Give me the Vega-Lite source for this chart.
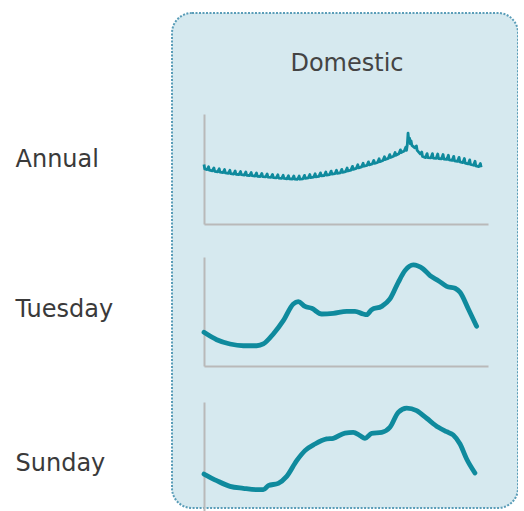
{
  "$schema": "https://vega.github.io/schema/vega-lite/v6.json",
  "width": 346,
  "height": 495,
  "padding": {"left": 15, "top": 13, "right": 0, "bottom": 0},
  "background": "white",
  "title": {"text": "Domestic", "font": "DejaVu Sans", "fontSize": 24, "fontWeight": "normal", "color": "#444444", "offset": -63, "anchor": "middle", "dx": 2},
  "config": {
    "view": {"fill": "#d6e9ef", "stroke": "#5a9db8", "strokeWidth": 2, "strokeDash": [2, 1.5], "cornerRadius": 20},
    "axis": {"domainColor": "#b9b9b9", "domainWidth": 2, "ticks": false, "labels": false, "grid": false},
    "line": {"color": "#0f8a9d"}
  },
  "datasets": {
    "annual": [
      {"d":0,"v":54},{"d":1,"v":50},{"d":4,"v":49.4},{"d":6,"v":52.0},
      {"d":7,"v":49.0},{"d":11,"v":48.4},{"d":13,"v":51.0},
      {"d":14,"v":47.9},{"d":18,"v":47.5},{"d":20,"v":50.2},
      {"d":21,"v":47.2},{"d":25,"v":46.8},{"d":27,"v":49.5},
      {"d":28,"v":46.5},{"d":32,"v":46.1},{"d":34,"v":48.8},
      {"d":35,"v":45.8},{"d":39,"v":45.4},{"d":41,"v":48.2},
      {"d":42,"v":45.2},{"d":46,"v":45.0},{"d":48,"v":47.7},
      {"d":49,"v":44.8},{"d":53,"v":44.5},{"d":55,"v":47.3},
      {"d":56,"v":44.3},{"d":60,"v":44.1},{"d":62,"v":46.8},
      {"d":63,"v":43.9},{"d":67,"v":43.6},{"d":69,"v":46.4},
      {"d":70,"v":43.4},{"d":74,"v":43.2},{"d":76,"v":46.0},
      {"d":77,"v":43.0},{"d":81,"v":42.8},{"d":83,"v":45.5},
      {"d":84,"v":42.6},{"d":88,"v":42.4},{"d":90,"v":45.1},
      {"d":91,"v":42.2},{"d":95,"v":41.9},{"d":97,"v":44.7},
      {"d":98,"v":41.8},{"d":102,"v":41.5},{"d":104,"v":44.3},
      {"d":105,"v":41.4},{"d":109,"v":41.1},{"d":111,"v":43.9},
      {"d":112,"v":41.0},{"d":116,"v":40.9},{"d":118,"v":43.7},
      {"d":119,"v":40.8},{"d":123,"v":40.7},{"d":125,"v":43.6},
      {"d":126,"v":40.7},{"d":130,"v":41.1},{"d":132,"v":44.2},
      {"d":133,"v":41.4},{"d":137,"v":41.9},{"d":139,"v":45.0},
      {"d":140,"v":42.2},{"d":144,"v":42.6},{"d":146,"v":45.7},
      {"d":147,"v":42.9},{"d":151,"v":43.3},{"d":153,"v":46.5},
      {"d":154,"v":43.7},{"d":158,"v":44.1},{"d":160,"v":47.3},
      {"d":161,"v":44.5},{"d":165,"v":44.9},{"d":167,"v":48.1},
      {"d":168,"v":45.3},{"d":172,"v":45.7},{"d":174,"v":48.9},
      {"d":175,"v":46.1},{"d":179,"v":46.5},{"d":181,"v":49.7},
      {"d":182,"v":46.9},{"d":186,"v":47.6},{"d":188,"v":50.9},
      {"d":189,"v":48.2},{"d":193,"v":49.0},{"d":195,"v":52.4},
      {"d":196,"v":49.7},{"d":200,"v":50.5},{"d":202,"v":53.8},
      {"d":203,"v":51.1},{"d":207,"v":51.9},{"d":209,"v":55.2},
      {"d":210,"v":52.5},{"d":214,"v":53.2},{"d":216,"v":56.5},
      {"d":217,"v":53.8},{"d":221,"v":54.6},{"d":223,"v":57.8},
      {"d":224,"v":55.1},{"d":228,"v":55.9},{"d":230,"v":59.3},
      {"d":231,"v":56.6},{"d":235,"v":57.7},{"d":237,"v":61.2},
      {"d":238,"v":58.6},{"d":242,"v":59.6},{"d":244,"v":63.1},
      {"d":245,"v":60.5},{"d":249,"v":61.6},{"d":251,"v":65.0},
      {"d":252,"v":62.4},{"d":256,"v":63.8},{"d":258,"v":67.4},
      {"d":259,"v":64.9},{"d":263,"v":66.3},{"d":265,"v":69.8},
      {"d":266,"v":67.0},{"d":267,"v":72.0},{"d":268,"v":82.7},{"d":269,"v":75.0},{"d":270,"v":78.0},{"d":271,"v":73.0},{"d":272,"v":75.5},
      {"d":273,"v":71.5},{"d":277,"v":69.2},{"d":279,"v":71.0},
      {"d":280,"v":66.9},{"d":284,"v":63.7},{"d":286,"v":65.4},
      {"d":287,"v":61.4},{"d":291,"v":60.4},{"d":293,"v":64.0},
      {"d":294,"v":60.3},{"d":298,"v":60.1},{"d":300,"v":64.0},
      {"d":301,"v":59.9},{"d":305,"v":59.7},{"d":307,"v":63.6},
      {"d":308,"v":59.5},{"d":312,"v":59.3},{"d":314,"v":63.2},
      {"d":315,"v":59.1},{"d":319,"v":58.7},{"d":321,"v":62.5},
      {"d":322,"v":58.3},{"d":326,"v":57.8},{"d":328,"v":61.5},
      {"d":329,"v":57.4},{"d":333,"v":56.9},{"d":335,"v":60.6},
      {"d":336,"v":56.5},{"d":340,"v":55.9},{"d":342,"v":59.5},
      {"d":343,"v":55.4},{"d":347,"v":54.6},{"d":349,"v":58.3},
      {"d":350,"v":54.1},{"d":354,"v":53.4},{"d":356,"v":57.0},
      {"d":357,"v":52.8},{"d":361,"v":52.1},{"d":363,"v":55.0},
      {"d":364,"v":51.5}
    ],
    "tuesday": [
      {"h":0,"v":30.9},{"h":1.12,"v":24.1},{"h":2.29,"v":20.2},{"h":3.46,"v":18.6},{"h":4.64,"v":18.6},{"h":5.22,"v":20.2},
      {"h":6.1,"v":29.4},{"h":6.98,"v":41.6},{"h":7.86,"v":56.9},{"h":8.3,"v":59.0},{"h":8.89,"v":54.7},{"h":9.48,"v":52.9},
      {"h":10.36,"v":47.7},{"h":11.38,"v":48.3},{"h":12.56,"v":50.2},{"h":13.29,"v":50.2},{"h":14.02,"v":47.7},{"h":14.32,"v":47.1},
      {"h":14.76,"v":51.7},{"h":15.64,"v":54.7},{"h":16.37,"v":61.5},{"h":17.1,"v":76.8},{"h":17.69,"v":87.5},{"h":18.42,"v":92.7},
      {"h":19.3,"v":89.0},{"h":19.9,"v":82.9},{"h":20.63,"v":78.3},{"h":21.36,"v":73.1},{"h":22.1,"v":71.3},{"h":22.54,"v":67.6},
      {"h":23.27,"v":52.3},{"h":24.0,"v":36.4}
    ],
    "sunday": [
      {"h":0,"v":34.5},{"h":1.12,"v":28.5},{"h":2.29,"v":23.3},{"h":3.46,"v":21.5},{"h":4.64,"v":20.3},{"h":5.22,"v":20.3},
      {"h":5.66,"v":23.9},{"h":6.54,"v":26.1},{"h":7.28,"v":32.4},{"h":8.16,"v":46.7},{"h":8.89,"v":55.8},{"h":9.77,"v":61.8},
      {"h":10.8,"v":66.4},{"h":11.38,"v":67.0},{"h":12.41,"v":71.8},{"h":13.14,"v":72.4},{"h":13.73,"v":69.4},{"h":14.17,"v":67.0},
      {"h":14.76,"v":71.5},{"h":15.64,"v":72.4},{"h":16.37,"v":77.0},{"h":17.1,"v":90.6},{"h":17.84,"v":94.5},{"h":18.72,"v":92.1},
      {"h":19.6,"v":85.2},{"h":20.63,"v":77.0},{"h":21.36,"v":73.0},{"h":21.94,"v":70.0},{"h":22.54,"v":61.8},{"h":23.12,"v":48.2},
      {"h":23.85,"v":35.5}
    ]
  },
  "layer": [
    {
      "data": {"name": "annual"},
      "mark": {"type": "line", "strokeWidth": 2.8, "strokeJoin": "round"},
      "encoding": {
        "x": {"field": "d", "type": "quantitative", "scale": {"domain": [0, 373], "range": [32, 316], "nice": false, "zero": false},
              "axis": {"orient": "bottom", "offset": -284, "title": null}},
        "y": {"field": "v", "type": "quantitative", "scale": {"domain": [0, 100], "range": [211, 101], "nice": false},
              "axis": {"orient": "left", "offset": -32, "title": "Annual", "titleAngle": 0, "titleAlign": "left", "titleBaseline": "alphabetic",
                       "titleX": -189, "titleY": 153, "titleFont": "DejaVu Sans", "titleFontSize": 24, "titleFontWeight": "normal", "titleColor": "#3a3a3a"}}
      }
    },
    {
      "data": {"name": "tuesday"},
      "mark": {"type": "line", "strokeWidth": 4.8, "interpolate": "monotone", "strokeCap": "round"},
      "encoding": {
        "x": {"field": "h", "type": "quantitative", "scale": {"domain": [0, 25], "range": [32, 316], "nice": false},
              "axis": {"orient": "bottom", "offset": -142, "title": null}},
        "y": {"field": "v", "type": "quantitative", "scale": {"domain": [0, 100], "range": [353, 244], "nice": false},
              "axis": {"orient": "left", "offset": -32, "title": "Tuesday", "titleAngle": 0, "titleAlign": "left", "titleBaseline": "alphabetic",
                       "titleX": -189, "titleY": 303, "titleFont": "DejaVu Sans", "titleFontSize": 24, "titleFontWeight": "normal", "titleColor": "#3a3a3a"}}
      }
    },
    {
      "data": {"name": "sunday"},
      "mark": {"type": "line", "strokeWidth": 4.8, "interpolate": "monotone", "strokeCap": "round"},
      "encoding": {
        "x": {"field": "h", "type": "quantitative", "scale": {"domain": [0, 25], "range": [32, 316], "nice": false},
              "axis": {"orient": "bottom", "offset": 4, "title": null}},
        "y": {"field": "v", "type": "quantitative", "scale": {"domain": [0, 100], "range": [499, 389], "nice": false},
              "axis": {"orient": "left", "offset": -32, "title": "Sunday", "titleAngle": 0, "titleAlign": "left", "titleBaseline": "alphabetic",
                       "titleX": -189, "titleY": 457, "titleFont": "DejaVu Sans", "titleFontSize": 24, "titleFontWeight": "normal", "titleColor": "#3a3a3a"}}
      }
    }
  ],
  "resolve": {"scale": {"x": "independent", "y": "independent"}, "axis": {"x": "independent", "y": "independent"}}
}
